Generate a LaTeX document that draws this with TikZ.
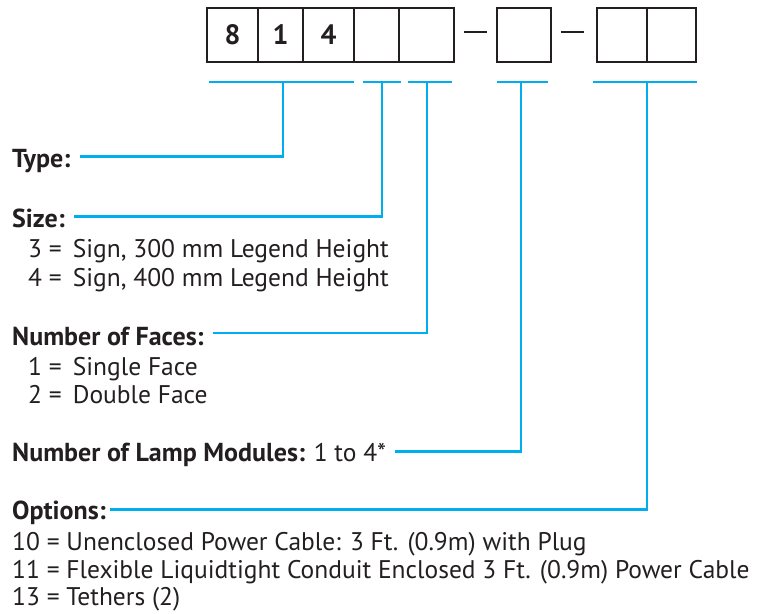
\documentclass[tikz,border=0pt]{standalone}
\usepackage{fontspec}
\setmainfont{PT Sans}
\usepackage{tikz}
\usetikzlibrary{positioning}
\definecolor{leadblue}{RGB}{0,174,239}
\definecolor{ink}{RGB}{35,31,32}

\begin{document}
\begin{tikzpicture}[x=1pt, y=-1pt,
    lead/.style={draw=leadblue, line width=2.4pt},
    cell/.style={draw=ink, line width=2.2pt, minimum height=54pt, inner sep=0pt, text=ink, font=\bfseries\fontsize{28}{30}\selectfont},
    entry/.style={anchor=base west, inner sep=0pt, text=ink, font=\fontsize{25.5}{28}\selectfont},
    heading/.style={entry, font=\bfseries\fontsize{26}{28}\selectfont}]
    	\useasboundingbox (0,0) rectangle (762,613);
    	% part number boxes
    	\node[cell, minimum width=51pt] (c1) at (232.5,35) {8};
    	\node[cell, minimum width=45pt] (c2) at (280.5,35) {1};
    	\node[cell, minimum width=51pt] (c3) at (328.5,35) {4};
    	\node[cell, minimum width=45pt] (c4) at (376.5,35) {};
    	\node[cell, minimum width=55pt] (c5) at (426.5,35) {};
    	\node[inner sep=0pt] (dash1) at (475.5,32) {\textcolor{ink}{\rule{23pt}{2pt}}};
    	\node[cell, minimum width=54pt] (d1) at (524,35) {};
    	\node[inner sep=0pt] (dash2) at (572,32) {\textcolor{ink}{\rule{23pt}{2pt}}};
    	\node[cell, minimum width=50pt] (e1) at (622,35) {};
    	\node[cell, minimum width=49pt] (e2) at (671.5,35) {};
    	% labels
    	\node[heading] (type) at (12,167) {Type:};
    	\node[heading] (size) at (12,227) {Size:};
    	\node[entry] (size3) at (28,257) {3 =\, Sign, 300 mm Legend Height};
    	\node[entry] (size4) at (28,286) {4 =\, Sign, 400 mm Legend Height};
    	\node[heading] (faces) at (12,345) {Number of Faces:};
    	\node[entry] (faces1) at (28,375) {1 =\, Single Face};
    	\node[entry] (faces2) at (28,403) {2 =\, Double Face};
    	\node[heading] (lamps) at (12,461) {Number of Lamp Modules: \mdseries\fontsize{25.5}{28}\selectfont 1 to 4*};
    	\node[heading] (opts) at (12,519) {Options:};
    	\node[entry] (opt10) at (12,550) {10 = Unenclosed Power Cable: 3 Ft. (0.9m) with Plug};
    	\node[entry] (opt11) at (12,578) {11 = Flexible Liquidtight Conduit Enclosed 3 Ft. (0.9m) Power Cable};
    	\node[entry] (opt13) at (12,605) {13 = Tethers (2)};
    	% brackets
    	\coordinate (s1) at (283,82);
    	\coordinate (s2) at (382,82);
    	\coordinate (s3) at (427,82);
    	\coordinate (s4) at (521,82);
    	\coordinate (s5) at (647,82);
    	\draw[lead] (209,82) -- (354,82);
    	\draw[lead] (363,82) -- (401,82);
    	\draw[lead] (408,82) -- (452,82);
    	\draw[lead] (497,82) -- (548,82);
    	\draw[lead] (593,82) -- (697,82);
    	\draw[lead] (s1) |- ([shift={(9pt,10.5pt)}]type.base east);
    	\draw[lead] (s2) |- ([shift={(9pt,10.5pt)}]size.base east);
    	\draw[lead] (s3) |- ([shift={(9pt,12pt)}]faces.base east);
    	\draw[lead] (s4) |- ([shift={(9pt,9.5pt)}]lamps.base east);
    	\draw[lead] (s5) |- ([shift={(4pt,9.5pt)}]opts.base east);
\end{tikzpicture}
\end{document}
